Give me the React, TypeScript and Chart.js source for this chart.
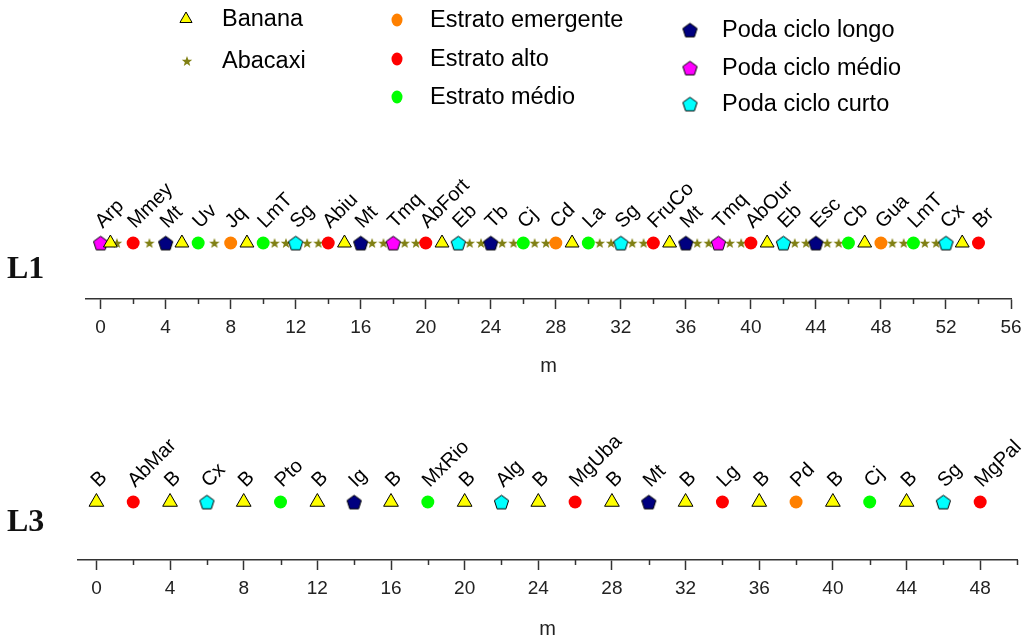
import React, { useEffect, useRef } from 'react';
import { Chart, registerables } from 'chart.js';

Chart.register(...registerables);

// ---------- Legend ----------
const LEGEND_KEYS = ['banana', 'abacaxi', 'ee', 'ea', 'em', 'pl', 'pm', 'pc'];
const LEGEND_LABELS = ['Banana', 'Abacaxi', 'Estrato emergente', 'Estrato alto', 'Estrato médio', 'Poda ciclo longo', 'Poda ciclo médio', 'Poda ciclo curto'];

// ---------- Line L1 ----------
const L1_BANANA = [0.6, 5, 9, 15, 21, 29, 35, 41, 47, 53];
const L1_ABACAXI = [1, 3, 7, 10.7, 11.4, 12.7, 13.4, 16.7, 17.4, 18.7, 19.4, 22.7, 23.4, 24.7, 25.4, 26.7, 27.4, 30.7, 31.4, 32.7, 33.4, 36.7, 37.4, 38.7, 39.4, 42.7, 43.4, 44.7, 45.4, 48.7, 49.4, 50.7, 51.4];
const L1_SPECIES = ['Arp', 'Mmey', 'Mt', 'Uv', 'Jq', 'LmT', 'Sg', 'Abiu', 'Mt', 'Tmq', 'AbFort', 'Eb', 'Tb', 'Cj', 'Cd', 'La', 'Sg', 'FruCo', 'Mt', 'Tmq', 'AbOur', 'Eb', 'Esc', 'Cb', 'Gua', 'LmT', 'Cx', 'Br'];
const L1_POS = [0, 2, 4, 6, 8, 10, 12, 14, 16, 18, 20, 22, 24, 26, 28, 30, 32, 34, 36, 38, 40, 42, 44, 46, 48, 50, 52, 54];
const L1_GROUP = ['pm', 'ea', 'pl', 'em', 'ee', 'em', 'pc', 'ea', 'pl', 'pm', 'ea', 'pc', 'pl', 'em', 'ee', 'em', 'pc', 'ea', 'pl', 'pm', 'ea', 'pc', 'pl', 'em', 'ee', 'em', 'pc', 'ea'];
const L1_TICKS = [0, 2, 4, 6, 8, 10, 12, 14, 16, 18, 20, 22, 24, 26, 28, 30, 32, 34, 36, 38, 40, 42, 44, 46, 48, 50, 52, 54, 56];

// ---------- Line L3 ----------
const L3_BANANA = [0, 4, 8, 12, 16, 20, 24, 28, 32, 36, 40, 44];
const L3_BANANA_LABEL = 'B';
const L3_SPECIES = ['AbMar', 'Cx', 'Pto', 'Ig', 'MxRio', 'Alg', 'MgUba', 'Mt', 'Lg', 'Pd', 'Cj', 'Sg', 'MgPal'];
const L3_POS = [2, 6, 10, 14, 18, 22, 26, 30, 34, 38, 42, 46, 48];
const L3_GROUP = ['ea', 'pc', 'em', 'pl', 'em', 'pc', 'ea', 'pl', 'ea', 'ee', 'em', 'pc', 'ea'];
const L3_TICKS = [0, 2, 4, 6, 8, 10, 12, 14, 16, 18, 20, 22, 24, 26, 28, 30, 32, 34, 36, 38, 40, 42, 44, 46, 48, 50];

// ---------- Styles ----------
const COLORS: Record<string, string> = {
  banana: '#FFFF00', abacaxi: '#808014', ee: '#FF8000', ea: '#FF0000', em: '#00FF00',
  pl: '#000080', pm: '#FF00FF', pc: '#00FFFF',
};
const GROUP_ORDER = ['pl', 'pm', 'pc', 'ee', 'ea', 'em'];
const SANS = '"Liberation Sans", Arial, sans-serif';

function makeStar(color: string) {
  const c = document.createElement('canvas');
  c.width = 12; c.height = 12;
  const g = c.getContext('2d')!;
  g.beginPath();
  for (let k = 0; k < 10; k++) {
    const r = k % 2 === 0 ? 5.5 : 2.3;
    const a = -Math.PI / 2 + k * Math.PI / 5;
    const x = 6 + r * Math.cos(a), y = 6.5 + r * Math.sin(a);
    if (k === 0) g.moveTo(x, y); else g.lineTo(x, y);
  }
  g.closePath();
  g.fillStyle = color;
  g.fill();
  return c;
}

function makePentagon(color: string, R: number) {
  const s = Math.ceil(R * 2 + 4);
  const c = document.createElement('canvas');
  c.width = s; c.height = s;
  const g = c.getContext('2d')!;
  const cx = s / 2, cy = s / 2 + 0.8;
  g.beginPath();
  for (let k = 0; k < 5; k++) {
    const a = -Math.PI / 2 + k * 2 * Math.PI / 5;
    const x = cx + R * Math.cos(a), y = cy + R * Math.sin(a);
    if (k === 0) g.moveTo(x, y); else g.lineTo(x, y);
  }
  g.closePath();
  g.fillStyle = color;
  g.fill();
  g.strokeStyle = '#000';
  g.lineWidth = 1;
  g.stroke();
  return c;
}

function buildDatasets(banana: number[], bananaLabel: string | null, abacaxi: number[], species: string[], pos: number[], group: string[], imgs: any, triR: number) {
  const ds: any[] = [];
  ds.push({
    label: 'Banana',
    data: banana.map((x) => ({ x, y: 0 })),
    pointStyle: 'triangle', pointRadius: triR, backgroundColor: COLORS.banana,
    borderColor: '#000', borderWidth: 1,
    pointLabels: bananaLabel ? banana.map(() => bananaLabel) : null,
  });
  GROUP_ORDER.forEach((gk) => {
    const idx = pos.map((_, i) => i).filter((i) => group[i] === gk);
    if (!idx.length) return;
    const isPent = gk[0] === 'p';
    ds.push({
      label: gk,
      data: idx.map((i) => ({ x: pos[i], y: 0 })),
      pointStyle: isPent ? imgs[gk] : 'circle',
      pointRadius: 6.5,
      backgroundColor: COLORS[gk],
      borderColor: COLORS[gk],
      borderWidth: 0,
      pointLabels: idx.map((i) => species[i]),
    });
  });
  if (abacaxi.length) {
    ds.push({
      label: 'Abacaxi',
      data: abacaxi.map((x) => ({ x, y: 0 })),
      pointStyle: imgs.star, pointRadius: 5, backgroundColor: COLORS.abacaxi, borderWidth: 0,
      pointLabels: null,
    });
  }
  return ds;
}

const pointLabelPlugin = {
  id: 'pointLabelPlugin',
  afterDatasetsDraw(chart: any) {
    const ctx = chart.ctx;
    chart.data.datasets.forEach((ds: any, i: number) => {
      const labels = ds.pointLabels;
      if (!labels) return;
      const meta = chart.getDatasetMeta(i);
      meta.data.forEach((el: any, j: number) => {
        const t = labels[j];
        if (!t) return;
        ctx.save();
        ctx.translate(el.x + 2, el.y - 14);
        ctx.rotate(-45 * Math.PI / 180);
        ctx.font = '20px ' + SANS;
        ctx.fillStyle = '#000';
        ctx.textAlign = 'left';
        ctx.textBaseline = 'alphabetic';
        ctx.fillText(t, 0, 0);
        ctx.restore();
      });
    });
  },
};

function minorTickPlugin(major: number) {
  return {
    id: 'minorTicks',
    afterDraw(chart: any) {
      const s = chart.scales.x;
      const ctx = chart.ctx;
      ctx.save();
      ctx.strokeStyle = '#333';
      ctx.lineWidth = 1.5;
      s.ticks.forEach((t: any) => {
        if (t.value % major !== 0) {
          const x = Math.round(s.getPixelForValue(t.value)) + 0.5;
          ctx.beginPath();
          ctx.moveTo(x, s.top);
          ctx.lineTo(x, s.top + 5);
          ctx.stroke();
        }
      });
      ctx.restore();
    },
  };
}

function rowTitlePlugin(text: string, x: number, y: number) {
  return {
    id: 'rowTitle',
    afterDraw(chart: any) {
      const ctx = chart.ctx;
      ctx.save();
      ctx.font = 'bold 32px "Liberation Serif", "Times New Roman", serif';
      ctx.fillStyle = '#111';
      ctx.textAlign = 'left';
      ctx.textBaseline = 'middle';
      ctx.fillText(text, x, y);
      ctx.restore();
    },
  };
}

function legendPlugin(imgs: any) {
  const icon = [[186, 19], [187, 61], [397, 20], [397, 59], [397, 97], [690, 30], [690, 68], [690, 104]];
  const textX = [222, 222, 430, 430, 430, 722, 722, 722];
  return {
    id: 'customLegend',
    afterDraw(chart: any) {
      const ctx = chart.ctx;
      ctx.save();
      LEGEND_KEYS.forEach((k, i) => {
        const [x, y] = icon[i];
        if (k === 'banana') {
          const r = 7;
          ctx.beginPath();
          ctx.moveTo(x, y - r);
          ctx.lineTo(x + r * 0.866, y + r / 2);
          ctx.lineTo(x - r * 0.866, y + r / 2);
          ctx.closePath();
          ctx.fillStyle = COLORS.banana;
          ctx.fill();
          ctx.strokeStyle = '#000';
          ctx.lineWidth = 1;
          ctx.stroke();
        } else if (k === 'abacaxi') {
          ctx.drawImage(imgs.star, x - 6, y - 6);
        } else if (k[0] === 'e') {
          ctx.beginPath();
          ctx.ellipse(x, y, 5.5, 6.5, 0, 0, Math.PI * 2);
          ctx.fillStyle = COLORS[k];
          ctx.fill();
        } else {
          const im = imgs[k];
          ctx.drawImage(im, x - im.width / 2, y - im.height / 2);
        }
        ctx.font = '23.5px ' + SANS;
        ctx.fillStyle = '#000';
        ctx.textAlign = 'left';
        ctx.textBaseline = 'middle';
        ctx.fillText(LEGEND_LABELS[i], textX[i], y + 1);
      });
      ctx.restore();
    },
  };
}

function buildConfig(datasets: any[], ticks: number[], min: number, max: number, padding: any, axisH: number, titlePad: number, plugins: any[]) {
  return {
    type: 'scatter' as const,
    data: { datasets },
    options: {
      animation: false as const,
      responsive: false,
      devicePixelRatio: 1,
      events: [] as any[],
      layout: { padding },
      plugins: { legend: { display: false }, tooltip: { enabled: false } },
      scales: {
        y: { display: false, min: -1, max: 1 },
        x: {
          type: 'linear' as const,
          min, max,
          afterBuildTicks: (s: any) => { s.ticks = ticks.map((v) => ({ value: v })); },
          afterFit: (s: any) => { s.height = axisH; },
          ticks: {
            autoSkip: false, maxRotation: 0, padding: 7,
            color: '#222',
            font: { family: SANS, size: 19 },
            callback: (v: any) => (Number(v) % 4 === 0 ? String(v) : ''),
          },
          grid: {
            drawOnChartArea: false, drawTicks: true, tickLength: 10, tickWidth: 1.5,
            tickColor: (c: any) => (c.tick && c.tick.value % 4 === 0 ? '#333' : 'rgba(0,0,0,0)'),
          },
          border: { display: true, color: '#333', width: 1.5 },
          title: {
            display: true, text: 'm', color: '#222',
            font: { family: SANS, size: 20 },
            padding: { top: 0, bottom: titlePad },
          },
        },
      },
    },
    plugins,
  };
}

export default function App() {
  const ref1 = useRef<HTMLCanvasElement>(null);
  const ref2 = useRef<HTMLCanvasElement>(null);

  useEffect(() => {
    const imgs: any = {
      star: makeStar(COLORS.abacaxi),
      pl: makePentagon(COLORS.pl, 7.5),
      pm: makePentagon(COLORS.pm, 7.5),
      pc: makePentagon(COLORS.pc, 7.5),
    };
    const ds1 = buildDatasets(L1_BANANA, null, L1_ABACAXI, L1_SPECIES, L1_POS, L1_GROUP, imgs, 8);
    const ds3 = buildDatasets(L3_BANANA, L3_BANANA_LABEL, [], L3_SPECIES, L3_POS, L3_GROUP, imgs, 8.5);
    const c1 = new Chart(ref1.current!, buildConfig(
      ds1, L1_TICKS, -0.9, 56, { left: 86, right: 22, top: 187, bottom: 0 }, 91, 12,
      [pointLabelPlugin, minorTickPlugin(4), rowTitlePlugin('L1', 7, 270), legendPlugin(imgs)],
    ) as any);
    const c2 = new Chart(ref2.current!, buildConfig(
      ds3, L3_TICKS, -1, 50, { left: 78, right: 16, top: 54, bottom: 0 }, 77, -4,
      [pointLabelPlugin, minorTickPlugin(4), rowTitlePlugin('L3', 7, 133)],
    ) as any);
    return () => { c1.destroy(); c2.destroy(); };
  }, []);

  return (
    <div style={{ position: 'absolute', left: 0, top: 0, width: 1033, height: 637, background: '#fff' }}>
      <canvas ref={ref1} width={1033} height={390} style={{ position: 'absolute', left: 0, top: 0 }} />
      <canvas ref={ref2} width={1033} height={247} style={{ position: 'absolute', left: 0, top: 390 }} />
    </div>
  );
}
